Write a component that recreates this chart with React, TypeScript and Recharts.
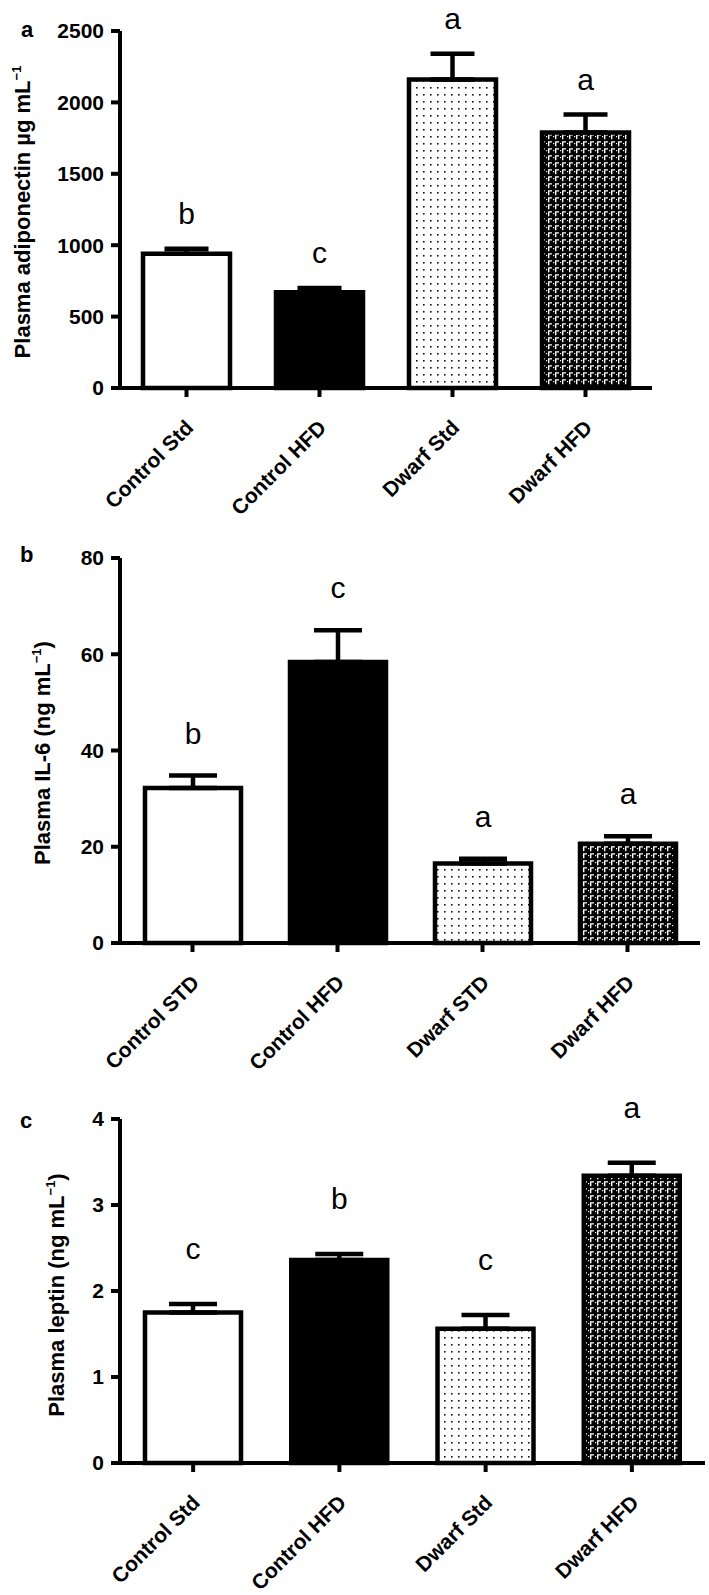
import React from 'react';
import { BarChart, Bar, XAxis, YAxis, ErrorBar, Cell, LabelList } from 'recharts';

// Panel a – plasma adiponectin
const catsA = ['Control Std', 'Control HFD', 'Dwarf Std', 'Dwarf HFD'];
const adiponectin = [940, 670, 2160, 1790];
const adiponectinErr = [35, 30, 180, 125];
const lettersA = ['b', 'c', 'a', 'a'];
const ticksA = [0, 500, 1000, 1500, 2000, 2500];

// Panel b – plasma IL-6
const catsB = ['Control STD', 'Control HFD', 'Dwarf STD', 'Dwarf HFD'];
const il6 = [32.2, 58.4, 16.5, 20.6];
const il6Err = [2.6, 6.6, 1.0, 1.6];
const lettersB = ['b', 'c', 'a', 'a'];
const ticksB = [0, 20, 40, 60, 80];

// Panel c – plasma leptin
const catsC = ['Control Std', 'Control HFD', 'Dwarf Std', 'Dwarf HFD'];
const leptin = [1.75, 2.36, 1.56, 3.34];
const leptinErr = [0.1, 0.07, 0.16, 0.15];
const lettersC = ['c', 'b', 'c', 'a'];
const ticksC = [0, 1, 2, 3, 4];

const FONT = 'Arial, "Liberation Sans", Helvetica, sans-serif';
const fills = ['#ffffff', '#000000', 'url(#dotsPat)', 'url(#gammaPat)'];

const XTick = (props: any) => {
  const { x, y, payload } = props;
  return (
    <g transform={`translate(${x + 8},${y + 30})`}>
      <text textAnchor="end" transform="rotate(-45)" fontSize={21} fontWeight="bold" fill="#000" fontFamily={FONT}>
        {payload.value}
      </text>
    </g>
  );
};

type PanelProps = {
  cats: string[];
  values: number[];
  errs: number[];
  letters: string[];
  ticks: number[];
  top: number;
  height: number;
  marginTop: number;
  marginRight: number;
  xAxisHeight: number;
  barSize: number;
  capHalf: number;
  letterGap: number;
};

const Panel = (p: PanelProps) => {
  const data = p.cats.map((c, i) => ({ name: c, value: p.values[i], err: [0, p.errs[i]] }));
  const letterContent = (lp: any) => {
    const vb = lp.viewBox || lp;
    const x = vb.x ?? lp.x;
    const y = vb.y ?? lp.y;
    const w = vb.width ?? lp.width;
    const h = vb.height ?? lp.height;
    const idx = lp.index;
    if (idx == null || x == null) return null;
    const pxPer = Math.abs(h) / p.values[idx];
    const capY = y - p.errs[idx] * pxPer;
    return (
      <text x={x + w / 2} y={capY - p.letterGap} textAnchor="middle" fontSize={30} fill="#000" fontFamily={FONT}>
        {p.letters[idx]}
      </text>
    );
  };
  return (
    <div style={{ position: 'absolute', left: 0, top: p.top }}>
      <BarChart
        width={709}
        height={p.height}
        data={data}
        margin={{ top: p.marginTop, right: p.marginRight, left: 0, bottom: 0 }}
      >
        <XAxis
          dataKey="name"
          type="category"
          height={p.xAxisHeight}
          interval={0}
          tickSize={9}
          tickMargin={2}
          axisLine={{ stroke: '#000', strokeWidth: 4 }}
          tickLine={{ stroke: '#000', strokeWidth: 4 }}
          tick={<XTick />}
        />
        <YAxis
          width={120}
          type="number"
          domain={[0, p.ticks[p.ticks.length - 1]]}
          ticks={p.ticks}
          interval={0}
          tickSize={9}
          tickMargin={7}
          axisLine={{ stroke: '#000', strokeWidth: 4 }}
          tickLine={{ stroke: '#000', strokeWidth: 4 }}
          tick={{ fill: '#000', fontSize: 21, fontWeight: 'bold', fontFamily: FONT }}
        />
        <Bar dataKey="value" isAnimationActive={false} stroke="#000" strokeWidth={4.5} barSize={p.barSize}>
          {data.map((d, i) => (
            <Cell key={d.name} fill={fills[i]} />
          ))}
          <ErrorBar dataKey="err" direction="y" width={p.capHalf} stroke="#000" strokeWidth={4.5} isAnimationActive={false} />
          <LabelList dataKey="value" content={letterContent} />
        </Bar>
      </BarChart>
    </div>
  );
};

const YLab = ({ x, y, children }: { x: number; y: number; children: React.ReactNode }) => (
  <text x={x} y={y} transform={`rotate(-90 ${x} ${y})`} textAnchor="middle" fontSize={22} fontWeight="bold" fill="#000" fontFamily={FONT}>
    {children}
  </text>
);

export default function App() {
  return (
    <div style={{ position: 'absolute', left: 0, top: 0, width: 709, height: 1595, background: '#fff', overflow: 'hidden' }}>
      <Panel cats={catsA} values={adiponectin} errs={adiponectinErr} letters={lettersA} ticks={ticksA}
        top={0} height={530} marginTop={31} marginRight={57} xAxisHeight={142} barSize={87} capHalf={22} letterGap={25} />
      <Panel cats={catsB} values={il6} errs={il6Err} letters={lettersB} ticks={ticksB}
        top={530} height={545} marginTop={28} marginRight={9} xAxisHeight={132} barSize={96} capHalf={24} letterGap={32} />
      <Panel cats={catsC} values={leptin} errs={leptinErr} letters={lettersC} ticks={ticksC}
        top={1075} height={520} marginTop={44} marginRight={4} xAxisHeight={132} barSize={96} capHalf={24} letterGap={45} />
      <svg width={709} height={1595} style={{ position: 'absolute', left: 0, top: 0, pointerEvents: 'none' }}>
        <defs>
          <pattern id="dotsPat" width="7" height="7" patternUnits="userSpaceOnUse">
            <rect width="7" height="7" fill="#fff" />
            <rect x="3" y="3" width="1.6" height="1.6" fill="#111" />
          </pattern>
          <pattern id="gammaPat" width="7" height="7" patternUnits="userSpaceOnUse">
            <rect width="7" height="7" fill="#000" />
            <path d="M2 1.2h4v1.4h-2.6v3.6h-1.4z" fill="#fff" />
            <rect x="0" y="3" width="1.2" height="1.2" fill="#fff" />
          </pattern>
        </defs>
        <g fontFamily={FONT} fontWeight="bold" fontSize={22} fill="#000">
          <text x={21} y={37}>a</text>
          <text x={20} y={562}>b</text>
          <text x={20} y={1128}>c</text>
        </g>
        <YLab x={30} y={212}>
          Plasma adiponectin µg mL<tspan fontSize={13} dy={-9}>−1</tspan>
        </YLab>
        <YLab x={50} y={753}>
          Plasma IL-6 (ng mL<tspan fontSize={13} dy={-9}>−1</tspan><tspan dy={9}>)</tspan>
        </YLab>
        <YLab x={64} y={1295}>
          Plasma leptin (ng mL<tspan fontSize={13} dy={-9}>−1</tspan><tspan dy={9}>)</tspan>
        </YLab>
      </svg>
    </div>
  );
}
